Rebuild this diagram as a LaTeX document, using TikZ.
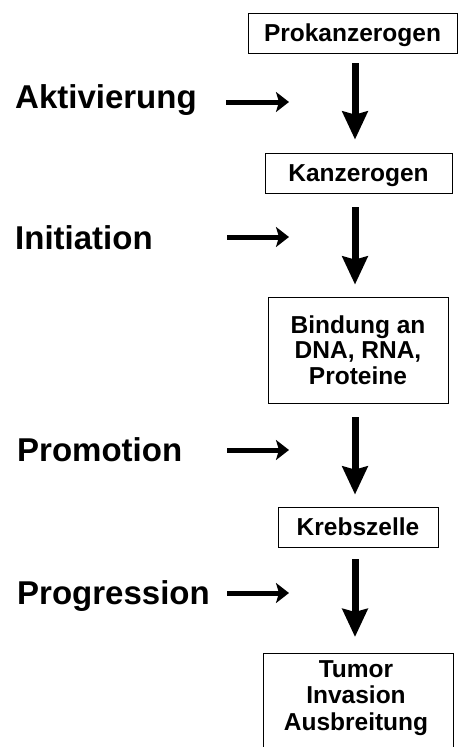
\documentclass[tikz,border=0pt]{standalone}
\usepackage{fontspec}
\setmainfont{Liberation Sans}
\usetikzlibrary{arrows.meta}
\tikzset{
  x=1pt, y=-1pt,
  stagebox/.style={draw=black, line width=0.8pt, inner sep=0pt, align=center,
    font=\fontsize{24.5}{25.5}\selectfont\bfseries},
  onelinebox/.style={stagebox, text height=17.5pt, text depth=0pt},
  phaselabel/.style={anchor=base west, inner sep=0pt,
    font=\fontsize{33}{36}\selectfont\bfseries},
  bigarrow/.style={line width=7pt, -{Stealth[length=28pt,width=25pt,inset=3pt]}},
  sidearrow/.style={line width=5pt, -{Stealth[length=13pt,width=20pt,inset=3pt]}},
}
\begin{document}
\begin{tikzpicture}
\useasboundingbox (0,0) rectangle (458,747);
% boxes
\node[onelinebox, minimum width=209pt, minimum height=40pt] (pro) at (352.5,33) {Prokanzerogen};
\node[onelinebox, minimum width=187pt, minimum height=40pt] (kanz) at (358.5,173) {Kanzerogen};
\node[stagebox, minimum width=180pt, minimum height=106pt] (bind) at (358,350) {Bindung an\\DNA, RNA,\\Proteine};
\node[onelinebox, minimum width=160pt, minimum height=40pt] (krebs) at (358,527) {Krebszelle};
\node[stagebox, minimum width=190pt, minimum height=120pt, anchor=north] (tumorbox) at (358,653) {};
\node[stagebox, draw=none, font=\fontsize{24.5}{26.5}\selectfont\bfseries] (tumor) at (356,698) {Tumor\\Invasion\\Ausbreitung};
% axis of the vertical arrows
\coordinate (ax) at (355,0);
\draw[bigarrow, shorten <=10pt, shorten >=13pt] (pro.south -| ax) -- (kanz.north -| ax);
\draw[bigarrow, shorten <=14pt, shorten >=12pt] (kanz.south -| ax) -- (bind.north -| ax);
\draw[bigarrow, shorten <=14pt, shorten >=12pt] (bind.south -| ax) -- (krebs.north -| ax);
\draw[bigarrow, shorten <=12pt, shorten >=16pt] (krebs.south -| ax) -- (tumorbox.north -| ax);
% phase labels
\node[phaselabel] (akt) at (15,108) {Aktivierung};
\node[phaselabel] (init) at (15,249) {Initiation};
\node[phaselabel] (prom) at (17,461) {Promotion};
\node[phaselabel] (prog) at (17,604) {Progression};
% side arrows
\coordinate (s1) at (226,102); \coordinate (e1) at (289,102);
\coordinate (s2) at (227,237); \coordinate (e2) at (289,237);
\coordinate (s3) at (227,450); \coordinate (e3) at (289,450);
\coordinate (s4) at (227,593); \coordinate (e4) at (289,593);
\draw[sidearrow] (s1) -- (e1);
\draw[sidearrow] (s2) -- (e2);
\draw[sidearrow] (s3) -- (e3);
\draw[sidearrow] (s4) -- (e4);
\end{tikzpicture}
\end{document}
